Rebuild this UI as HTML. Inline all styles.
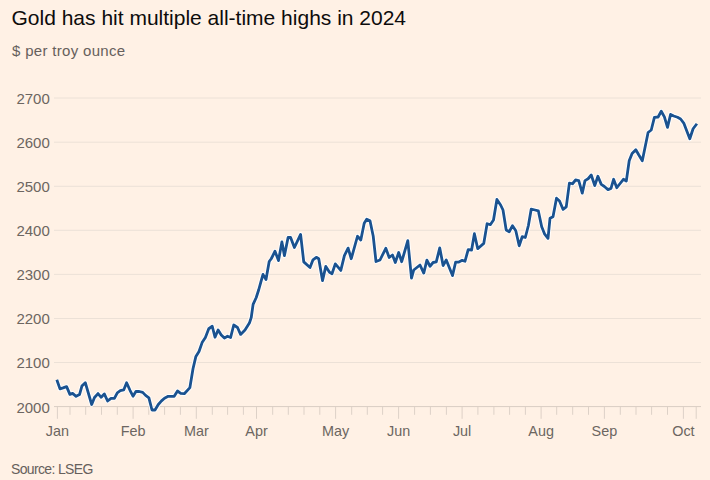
<!DOCTYPE html>
<html><head><meta charset="utf-8"><style>
html,body{margin:0;padding:0;background:#FFF1E5;}
body{width:710px;height:480px;overflow:hidden;position:relative;font-family:"Liberation Sans",sans-serif;}
svg{position:absolute;left:0;top:0;}
.g{stroke:#ECE1D7;stroke-width:1;}
.ax{stroke:#D9CDC3;stroke-width:1;}
.t{stroke:#DDD1C7;stroke-width:1;}
.yl{font-size:15px;fill:#6C6661;text-anchor:end;}
.xl{font-size:14.4px;fill:#6C6661;text-anchor:middle;}
.halo{fill:none;stroke:#FFFFFF;stroke-width:4.6;stroke-linejoin:round;stroke-linecap:butt;}
.ln{fill:none;stroke:#1A5290;stroke-width:2.8;stroke-linejoin:round;stroke-linecap:butt;}
.title{font-size:21px;fill:#0D0C0C;}
.sub{font-size:15px;fill:#66605C;letter-spacing:0.32px;}
.src{font-size:14px;fill:#66605C;letter-spacing:-0.65px;}
</style></head><body>
<svg width="710" height="480" viewBox="0 0 710 480">
<text x="11.5" y="24.7" class="title">Gold has hit multiple all-time highs in 2024</text>
<text x="12" y="55.8" class="sub">$ per troy ounce</text>
<line x1="54" y1="98.0" x2="701" y2="98.0" class="g"/>
<text x="49.8" y="103.9" class="yl">2700</text>
<line x1="54" y1="142.2" x2="701" y2="142.2" class="g"/>
<text x="49.8" y="148.1" class="yl">2600</text>
<line x1="54" y1="186.3" x2="701" y2="186.3" class="g"/>
<text x="49.8" y="192.2" class="yl">2500</text>
<line x1="54" y1="230.3" x2="701" y2="230.3" class="g"/>
<text x="49.8" y="236.2" class="yl">2400</text>
<line x1="54" y1="274.4" x2="701" y2="274.4" class="g"/>
<text x="49.8" y="280.3" class="yl">2300</text>
<line x1="54" y1="318.5" x2="701" y2="318.5" class="g"/>
<text x="49.8" y="324.4" class="yl">2200</text>
<line x1="54" y1="362.5" x2="701" y2="362.5" class="g"/>
<text x="49.8" y="368.4" class="yl">2100</text>
<text x="49.8" y="412.5" class="yl">2000</text>
<line x1="70" y1="406.6" x2="70" y2="414.8" class="t"/>
<line x1="85.7" y1="406.6" x2="85.7" y2="414.8" class="t"/>
<line x1="101.5" y1="406.6" x2="101.5" y2="414.8" class="t"/>
<line x1="117.3" y1="406.6" x2="117.3" y2="414.8" class="t"/>
<line x1="148.8" y1="406.6" x2="148.8" y2="414.8" class="t"/>
<line x1="164.6" y1="406.6" x2="164.6" y2="414.8" class="t"/>
<line x1="180.4" y1="406.6" x2="180.4" y2="414.8" class="t"/>
<line x1="212.3" y1="406.6" x2="212.3" y2="414.8" class="t"/>
<line x1="227.6" y1="406.6" x2="227.6" y2="414.8" class="t"/>
<line x1="243.4" y1="406.6" x2="243.4" y2="414.8" class="t"/>
<line x1="272.7" y1="406.6" x2="272.7" y2="414.8" class="t"/>
<line x1="288.3" y1="406.6" x2="288.3" y2="414.8" class="t"/>
<line x1="304" y1="406.6" x2="304" y2="414.8" class="t"/>
<line x1="319.8" y1="406.6" x2="319.8" y2="414.8" class="t"/>
<line x1="351.7" y1="406.6" x2="351.7" y2="414.8" class="t"/>
<line x1="367.3" y1="406.6" x2="367.3" y2="414.8" class="t"/>
<line x1="382.6" y1="406.6" x2="382.6" y2="414.8" class="t"/>
<line x1="414.6" y1="406.6" x2="414.6" y2="414.8" class="t"/>
<line x1="430.4" y1="406.6" x2="430.4" y2="414.8" class="t"/>
<line x1="446.4" y1="406.6" x2="446.4" y2="414.8" class="t"/>
<line x1="477.9" y1="406.6" x2="477.9" y2="414.8" class="t"/>
<line x1="493.9" y1="406.6" x2="493.9" y2="414.8" class="t"/>
<line x1="509.6" y1="406.6" x2="509.6" y2="414.8" class="t"/>
<line x1="525.4" y1="406.6" x2="525.4" y2="414.8" class="t"/>
<line x1="556.7" y1="406.6" x2="556.7" y2="414.8" class="t"/>
<line x1="572.7" y1="406.6" x2="572.7" y2="414.8" class="t"/>
<line x1="588.5" y1="406.6" x2="588.5" y2="414.8" class="t"/>
<line x1="620.3" y1="406.6" x2="620.3" y2="414.8" class="t"/>
<line x1="636" y1="406.6" x2="636" y2="414.8" class="t"/>
<line x1="651.6" y1="406.6" x2="651.6" y2="414.8" class="t"/>
<line x1="667.5" y1="406.6" x2="667.5" y2="414.8" class="t"/>
<line x1="57.4" y1="406.6" x2="57.4" y2="418.8" class="t"/>
<text x="57.4" y="435.8" class="xl">Jan</text>
<line x1="133.1" y1="406.6" x2="133.1" y2="418.8" class="t"/>
<text x="133.1" y="435.8" class="xl">Feb</text>
<line x1="196.3" y1="406.6" x2="196.3" y2="418.8" class="t"/>
<text x="196.3" y="435.8" class="xl">Mar</text>
<line x1="256.5" y1="406.6" x2="256.5" y2="418.8" class="t"/>
<text x="256.5" y="435.8" class="xl">Apr</text>
<line x1="335.6" y1="406.6" x2="335.6" y2="418.8" class="t"/>
<text x="335.6" y="435.8" class="xl">May</text>
<line x1="398.6" y1="406.6" x2="398.6" y2="418.8" class="t"/>
<text x="398.6" y="435.8" class="xl">Jun</text>
<line x1="462.1" y1="406.6" x2="462.1" y2="418.8" class="t"/>
<text x="462.1" y="435.8" class="xl">Jul</text>
<line x1="541.1" y1="406.6" x2="541.1" y2="418.8" class="t"/>
<text x="541.1" y="435.8" class="xl">Aug</text>
<line x1="604.4" y1="406.6" x2="604.4" y2="418.8" class="t"/>
<text x="604.4" y="435.8" class="xl">Sep</text>
<line x1="683.4" y1="406.6" x2="683.4" y2="418.8" class="t"/>
<text x="683.4" y="435.8" class="xl">Oct</text>
<line x1="696.2" y1="406.6" x2="696.2" y2="418.8" class="t"/>
<line x1="54" y1="406.6" x2="701" y2="406.6" class="ax"/>
<path d="M56.80,379.80 L60.00,388.90 L63.00,387.90 L66.60,386.60 L69.90,394.40 L72.60,393.40 L76.10,396.30 L79.50,394.60 L81.90,386.10 L85.30,382.70 L91.70,404.50 L94.50,397.50 L98.00,393.60 L101.20,397.30 L104.30,393.90 L107.60,401.00 L111.00,398.30 L114.40,398.30 L117.30,392.80 L120.30,390.70 L123.70,389.90 L126.60,382.70 L130.00,390.30 L133.00,396.20 L135.90,391.50 L139.30,391.50 L142.70,392.40 L145.60,395.40 L148.90,397.80 L152.00,410.00 L155.00,410.00 L158.30,404.50 L161.50,400.90 L164.50,398.20 L168.20,396.30 L174.20,396.30 L177.50,391.00 L180.70,393.30 L184.30,393.70 L189.90,387.60 L193.00,368.75 L195.90,356.40 L199.00,351.50 L202.10,342.60 L205.40,337.50 L208.75,328.75 L212.25,326.25 L215.00,337.25 L218.10,330.00 L221.25,335.00 L224.40,338.10 L227.50,336.25 L230.60,337.50 L233.75,325.00 L237.50,327.50 L240.60,334.40 L245.00,330.00 L249.40,323.10 L251.25,317.50 L253.10,304.40 L256.25,297.50 L258.80,289.50 L260.90,281.90 L263.00,274.40 L266.00,279.60 L269.20,261.50 L271.25,258.75 L275.00,251.25 L278.50,260.60 L281.90,241.90 L284.40,255.60 L288.10,237.50 L290.60,237.50 L294.40,247.50 L300.60,234.40 L303.75,261.90 L310.00,267.50 L313.00,259.80 L316.30,257.30 L318.75,258.75 L322.50,280.60 L325.80,266.40 L329.50,272.30 L332.00,273.70 L335.30,263.90 L340.80,270.40 L344.40,255.60 L348.10,248.10 L351.25,258.75 L357.50,236.25 L360.80,240.00 L364.20,223.30 L366.70,219.20 L370.00,220.80 L373.20,236.00 L376.00,261.50 L380.00,260.00 L385.80,248.30 L389.20,257.50 L392.50,255.00 L395.30,262.50 L398.70,252.50 L401.70,261.70 L407.80,240.70 L411.50,278.10 L413.75,270.00 L420.00,265.00 L423.75,273.10 L426.90,260.20 L430.00,266.25 L433.10,262.50 L436.25,261.90 L439.75,247.90 L443.10,265.60 L446.25,260.00 L452.50,275.60 L455.60,262.20 L458.40,262.20 L462.20,260.30 L465.00,261.25 L468.20,249.60 L471.60,250.00 L474.40,233.70 L477.75,248.70 L483.75,243.40 L487.10,223.75 L490.30,224.70 L493.50,220.00 L496.90,199.40 L500.60,205.00 L503.00,210.00 L506.20,230.00 L509.20,231.70 L512.50,225.80 L515.80,230.80 L519.20,245.80 L522.20,236.70 L525.30,237.50 L528.40,225.50 L531.20,209.20 L535.00,210.00 L538.30,210.80 L541.70,226.70 L544.70,234.20 L548.00,238.30 L550.00,218.30 L553.00,216.70 L556.50,198.20 L559.50,201.00 L563.10,209.40 L566.25,206.90 L569.40,183.10 L572.50,183.75 L575.60,180.00 L578.75,180.60 L582.25,193.10 L585.00,180.60 L588.10,178.75 L591.25,175.00 L594.75,185.60 L597.90,176.25 L601.25,184.40 L604.40,186.50 L608.00,189.60 L611.00,188.40 L613.60,179.30 L616.80,187.70 L619.70,184.00 L623.40,179.30 L626.30,181.10 L629.20,160.70 L632.10,153.40 L635.80,149.70 L638.70,154.80 L642.30,160.70 L648.10,132.50 L651.25,130.00 L654.40,117.40 L658.10,117.00 L661.25,111.25 L664.40,116.90 L667.50,127.40 L670.60,114.40 L673.75,116.00 L677.50,117.25 L680.60,119.00 L683.75,123.10 L686.90,131.25 L689.80,138.80 L693.10,128.75 L696.90,123.75" class="halo"/>
<path d="M56.80,379.80 L60.00,388.90 L63.00,387.90 L66.60,386.60 L69.90,394.40 L72.60,393.40 L76.10,396.30 L79.50,394.60 L81.90,386.10 L85.30,382.70 L91.70,404.50 L94.50,397.50 L98.00,393.60 L101.20,397.30 L104.30,393.90 L107.60,401.00 L111.00,398.30 L114.40,398.30 L117.30,392.80 L120.30,390.70 L123.70,389.90 L126.60,382.70 L130.00,390.30 L133.00,396.20 L135.90,391.50 L139.30,391.50 L142.70,392.40 L145.60,395.40 L148.90,397.80 L152.00,410.00 L155.00,410.00 L158.30,404.50 L161.50,400.90 L164.50,398.20 L168.20,396.30 L174.20,396.30 L177.50,391.00 L180.70,393.30 L184.30,393.70 L189.90,387.60 L193.00,368.75 L195.90,356.40 L199.00,351.50 L202.10,342.60 L205.40,337.50 L208.75,328.75 L212.25,326.25 L215.00,337.25 L218.10,330.00 L221.25,335.00 L224.40,338.10 L227.50,336.25 L230.60,337.50 L233.75,325.00 L237.50,327.50 L240.60,334.40 L245.00,330.00 L249.40,323.10 L251.25,317.50 L253.10,304.40 L256.25,297.50 L258.80,289.50 L260.90,281.90 L263.00,274.40 L266.00,279.60 L269.20,261.50 L271.25,258.75 L275.00,251.25 L278.50,260.60 L281.90,241.90 L284.40,255.60 L288.10,237.50 L290.60,237.50 L294.40,247.50 L300.60,234.40 L303.75,261.90 L310.00,267.50 L313.00,259.80 L316.30,257.30 L318.75,258.75 L322.50,280.60 L325.80,266.40 L329.50,272.30 L332.00,273.70 L335.30,263.90 L340.80,270.40 L344.40,255.60 L348.10,248.10 L351.25,258.75 L357.50,236.25 L360.80,240.00 L364.20,223.30 L366.70,219.20 L370.00,220.80 L373.20,236.00 L376.00,261.50 L380.00,260.00 L385.80,248.30 L389.20,257.50 L392.50,255.00 L395.30,262.50 L398.70,252.50 L401.70,261.70 L407.80,240.70 L411.50,278.10 L413.75,270.00 L420.00,265.00 L423.75,273.10 L426.90,260.20 L430.00,266.25 L433.10,262.50 L436.25,261.90 L439.75,247.90 L443.10,265.60 L446.25,260.00 L452.50,275.60 L455.60,262.20 L458.40,262.20 L462.20,260.30 L465.00,261.25 L468.20,249.60 L471.60,250.00 L474.40,233.70 L477.75,248.70 L483.75,243.40 L487.10,223.75 L490.30,224.70 L493.50,220.00 L496.90,199.40 L500.60,205.00 L503.00,210.00 L506.20,230.00 L509.20,231.70 L512.50,225.80 L515.80,230.80 L519.20,245.80 L522.20,236.70 L525.30,237.50 L528.40,225.50 L531.20,209.20 L535.00,210.00 L538.30,210.80 L541.70,226.70 L544.70,234.20 L548.00,238.30 L550.00,218.30 L553.00,216.70 L556.50,198.20 L559.50,201.00 L563.10,209.40 L566.25,206.90 L569.40,183.10 L572.50,183.75 L575.60,180.00 L578.75,180.60 L582.25,193.10 L585.00,180.60 L588.10,178.75 L591.25,175.00 L594.75,185.60 L597.90,176.25 L601.25,184.40 L604.40,186.50 L608.00,189.60 L611.00,188.40 L613.60,179.30 L616.80,187.70 L619.70,184.00 L623.40,179.30 L626.30,181.10 L629.20,160.70 L632.10,153.40 L635.80,149.70 L638.70,154.80 L642.30,160.70 L648.10,132.50 L651.25,130.00 L654.40,117.40 L658.10,117.00 L661.25,111.25 L664.40,116.90 L667.50,127.40 L670.60,114.40 L673.75,116.00 L677.50,117.25 L680.60,119.00 L683.75,123.10 L686.90,131.25 L689.80,138.80 L693.10,128.75 L696.90,123.75" class="ln"/>
<text x="11" y="473.7" class="src">Source: LSEG</text>
</svg>
</body></html>
